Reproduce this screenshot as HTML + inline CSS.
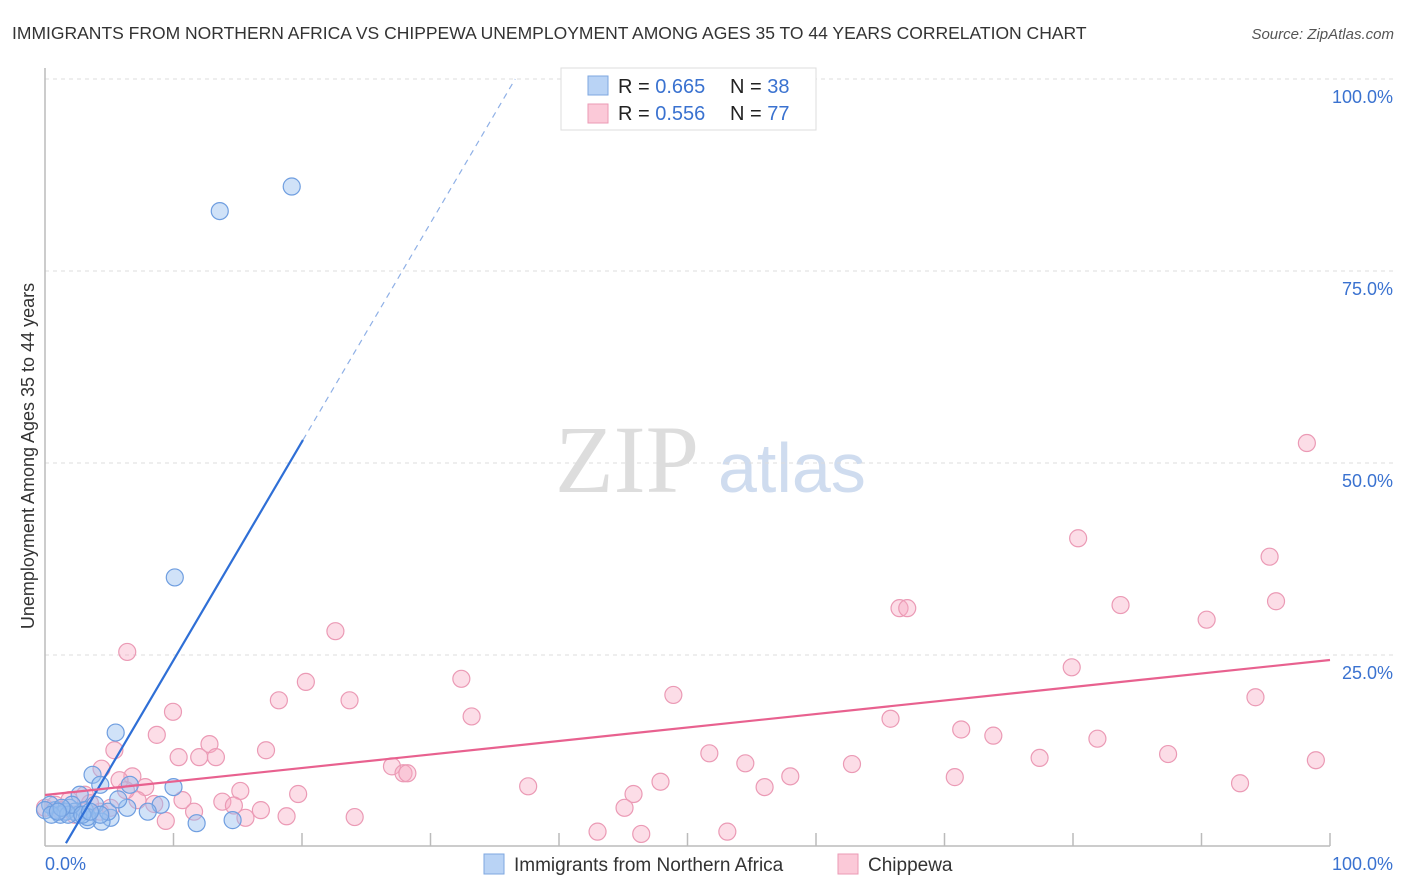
<!DOCTYPE html>
<html><head><meta charset="utf-8"><style>
body{margin:0;background:#fff;font-family:"Liberation Sans",sans-serif;}
#wrap{position:relative;width:1406px;height:892px;overflow:hidden;}
</style></head><body>
<div id="wrap">
<svg id="svg" width="1406" height="892" xmlns="http://www.w3.org/2000/svg">
<text x="12" y="39" font-size="17.5" fill="#333">IMMIGRANTS FROM NORTHERN AFRICA VS CHIPPEWA UNEMPLOYMENT AMONG AGES 35 TO 44 YEARS CORRELATION CHART</text>
<text x="1394" y="39" font-size="15" fill="#555" font-style="italic" text-anchor="end">Source: ZipAtlas.com</text>
<text x="34" y="456" font-size="18" fill="#333" text-anchor="middle" transform="rotate(-90 34 456)">Unemployment Among Ages 35 to 44 years</text>
<text x="555" y="492" font-size="96" fill="#ddd" font-family="Liberation Serif,serif">ZIP</text>
<text x="718" y="492" font-size="70" fill="#cfdcef">atlas</text>
<g id="grid"></g><g id="pts"></g><g id="lines"></g>
<g>
<rect x="561" y="68" width="255" height="62" fill="#fff" stroke="#ddd"/>
<rect x="588" y="76" width="20" height="19" fill="#b9d3f5" stroke="#7ea7e0"/>
<rect x="588" y="104" width="20" height="19" fill="#fbc9d8" stroke="#eb9ab5"/>
<text x="618" y="93" font-size="20" fill="#222">R = <tspan fill="#3a72d0">0.665</tspan></text>
<text x="730" y="93" font-size="20" fill="#222">N = <tspan fill="#3a72d0">38</tspan></text>
<text x="618" y="120" font-size="20" fill="#222">R = <tspan fill="#3a72d0">0.556</tspan></text>
<text x="730" y="120" font-size="20" fill="#222">N = <tspan fill="#3a72d0">77</tspan></text>
</g>
<g>
<rect x="484" y="854" width="20" height="20" fill="#b9d3f5" stroke="#7ea7e0"/>
<text x="514" y="871" font-size="19" fill="#333">Immigrants from Northern Africa</text>
<rect x="838" y="854" width="20" height="20" fill="#fbc9d8" stroke="#eb9ab5"/>
<text x="868" y="871" font-size="19" fill="#333">Chippewa</text>
</g>
</svg>
</div>
<script>
const blueX=[13.6,19.2,10.1,5.5,10.0,3.7,4.3,6.6,9.0,11.8,14.6,5.1,4.4,3.3,6.4,8.0,2.7,1.9,0.8,0.4,1.2,2.3,3.1,3.9,1.6,2.6,3.3,4.9,5.7,0.0,0.5,1.8,2.1,2.9,4.3,3.5,1.3,1.0];
const blueY=[82.8,86.0,35.1,14.9,7.8,9.4,8.1,8.1,5.5,3.1,3.5,3.8,3.3,3.5,5.1,4.6,6.8,5.1,4.8,5.5,4.2,4.6,4.8,5.5,4.6,4.2,3.9,4.6,6.2,4.8,4.2,4.2,5.5,4.2,4.2,4.6,5.1,4.6];
const pinkX=[98.2,80.4,95.3,83.7,95.8,66.5,67.1,90.4,22.6,6.4,79.9,32.4,20.3,48.9,23.7,18.2,94.2,9.96,33.2,65.8,71.3,73.8,8.7,12.8,81.9,17.2,5.4,51.7,77.4,87.4,98.9,10.4,12.0,13.3,54.5,62.8,4.4,70.8,58.0,27.0,27.9,28.2,6.8,5.8,47.9,93.0,37.6,56.0,7.8,15.2,19.7,45.8,7.2,10.7,13.8,14.7,16.8,11.6,8.5,45.1,24.1,18.8,15.6,9.4,43.0,46.4,53.1,0.0,0.8,1.9,3.1,4.3,3.5,1.2,5.1,2.3,6.3];
const pinkY=[52.6,40.2,37.8,31.5,32.0,31.1,31.1,29.6,28.1,25.4,23.4,21.9,21.5,19.8,19.1,19.1,19.5,17.6,17.0,16.7,15.3,14.5,14.6,13.4,14.1,12.6,12.6,12.2,11.6,12.1,11.3,11.7,11.7,11.7,10.9,10.8,10.2,9.1,9.2,10.5,9.6,9.6,9.2,8.7,8.5,8.3,7.9,7.8,7.8,7.3,6.9,6.9,6.1,6.1,5.9,5.4,4.8,4.6,5.6,5.1,3.9,4.0,3.8,3.4,2.0,1.7,2.0,5.1,5.5,6.1,6.8,4.6,5.7,4.8,5.1,4.2,7.4];
const yTicks=[25,50,75,100];
const yTickLabels=["25.0%","50.0%","75.0%","100.0%"];
const xTicks=[10,20,30,40,50,60,70,80,90,100];
const xLabels=["0.0%","100.0%"];
const blueFit=[-4.14,2.846];
const pinkFit=[6.77,0.1758];
const X=v=>45+v*12.85, Y=v=>847-v*7.68;
const NS="http://www.w3.org/2000/svg";
function mk(t,a,p){const e=document.createElementNS(NS,t);for(const k in a)e.setAttribute(k,a[k]);p.appendChild(e);return e;}
const grid=document.getElementById('grid');
yTicks.forEach((t,i)=>{
 const l=mk('line',{x1:45,x2:1393,y1:Y(t),y2:Y(t),stroke:'#ddd','stroke-dasharray':'4,4'},grid);
 
 
 const tx=mk('text',{x:1393,y:Y(t)+24,'font-size':18,fill:'#3a72d0','text-anchor':'end'},grid);
 tx.textContent=yTickLabels[i];
 
 
});
const ax=mk('line',{x1:45,x2:1330,y1:846,y2:846,stroke:'#bbb','stroke-width':1.5},grid);


const ay=mk('line',{x1:45,x2:45,y1:68,y2:846,stroke:'#bbb','stroke-width':1.5},grid);


xTicks.forEach(t=>{
 const l=mk('line',{x1:X(t),x2:X(t),y1:833,y2:846,stroke:'#bbb','stroke-width':1.5},grid);
 
 
});
[[0,'start'],[100,'end']].forEach((d,i)=>{
 const tx=mk('text',{x:i?1393:45,y:870,'font-size':18,fill:'#3a72d0','text-anchor':d[1]},grid);
 tx.textContent=xLabels[i];
 
 
});
const pts=document.getElementById('pts');
pinkX.forEach((x,i)=>{
 const c=mk('circle',{cx:X(x),cy:Y(pinkY[i]),r:8.5,fill:'rgba(247,170,195,0.4)',stroke:'#eb9ab5','stroke-width':1.2},pts);
 
 
});
blueX.forEach((x,i)=>{
 const c=mk('circle',{cx:X(x),cy:Y(blueY[i]),r:8.5,fill:'rgba(150,190,240,0.45)',stroke:'#6f9ee0','stroke-width':1.2},pts);
 
 
});
const lines=document.getElementById('lines');
const bx0=(0.5-blueFit[0])/blueFit[1], bx1=(53-blueFit[0])/blueFit[1], bx2=(100-blueFit[0])/blueFit[1];
const bf=v=>blueFit[0]+blueFit[1]*v;
const b1=mk('line',{x1:X(bx0),y1:Y(bf(bx0)),x2:X(bx1),y2:Y(bf(bx1)),stroke:'#2f6fd6','stroke-width':2.2},lines);


const b2=mk('line',{x1:X(bx1),y1:Y(bf(bx1)),x2:X(bx2),y2:Y(bf(bx2)),stroke:'#8fb0e6','stroke-width':1.2,'stroke-dasharray':'6,5'},lines);


const p1=mk('line',{x1:X(0),y1:Y(pinkFit[0]),x2:X(100),y2:Y(pinkFit[0]+pinkFit[1]*100),stroke:'#e8618f','stroke-width':2.2},lines);


</script>
</body></html>
